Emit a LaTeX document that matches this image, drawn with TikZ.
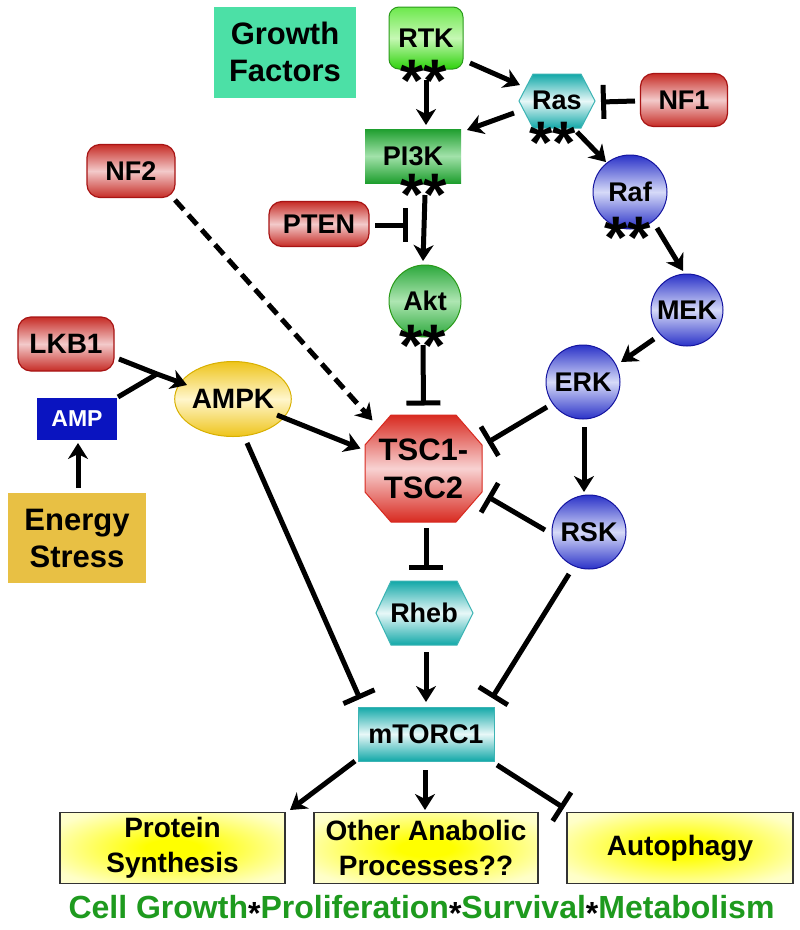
\documentclass[tikz,border=0pt]{standalone}
\usepackage{fontspec}
\setmainfont{Liberation Sans}
\usetikzlibrary{arrows.meta,calc,shapes.geometric}
\definecolor{redT}{HTML}{C62C26}
\definecolor{redM}{HTML}{F3CACA}
\definecolor{redB}{HTML}{A81414}
\definecolor{tscT}{HTML}{D82A20}
\definecolor{tscM}{HTML}{F8D2D2}
\definecolor{grnT}{HTML}{6CE84C}
\definecolor{grnM}{HTML}{C6F8B4}
\definecolor{grnBot}{HTML}{2ED20C}
\definecolor{grnB}{HTML}{2A9A1A}
\definecolor{pikT}{HTML}{1E9E2E}
\definecolor{pikM}{HTML}{A2E2AA}
\definecolor{aktT}{HTML}{2CA83C}
\definecolor{aktM}{HTML}{AEE6B2}
\definecolor{bluT}{HTML}{2A32C8}
\definecolor{bluM}{HTML}{D6DAF8}
\definecolor{bluB}{HTML}{1414A0}
\definecolor{teaT}{HTML}{12A8A8}
\definecolor{teaM}{HTML}{E8F8F8}
\definecolor{teaB}{HTML}{3CB4B4}
\definecolor{ylwT}{HTML}{EEC41A}
\definecolor{ylwM}{HTML}{FFF6CC}
\definecolor{ylwB}{HTML}{D8B000}
\definecolor{gfc}{HTML}{4CE0A6}
\definecolor{esc}{HTML}{E8C044}
\definecolor{ampc}{HTML}{0A14C0}
\definecolor{fgreen}{HTML}{1E9A1E}
\pgfdeclareradialshading{glow}{\pgfpoint{0bp}{0bp}}{color(0bp)=(yellow); color(6bp)=(yellow); color(30bp)=(yellow!22!white); color(50bp)=(yellow!6!white)}
\newcommand{\footstar}{\raisebox{-6pt}{\textcolor{black}{*}}}
\begin{document}
\begin{tikzpicture}[x=1pt,y=-1pt,
  lab/.style={font=\bfseries\fontsize{27}{30}\selectfont, align=center, inner sep=0pt, text=black},
  big/.style={font=\bfseries\fontsize{31}{37}\selectfont},
  redbox/.style={lab, rectangle, rounded corners=13pt, draw=redB, line width=1.2pt, top color=redT, bottom color=redT, middle color=redM},
  bluec/.style={lab, circle, draw=bluB, line width=1pt, top color=bluT, bottom color=bluT, middle color=bluM, minimum size=74pt},
  teal/.style={draw=teaB, line width=1pt, top color=teaT, bottom color=teaT, middle color=teaM},
  outbox/.style={lab, rectangle, draw=black!80, line width=1.3pt, shading=glow, minimum width=225pt, minimum height=71pt, font=\bfseries\fontsize{28}{35}\selectfont},
  stars/.style={font=\bfseries\fontsize{60}{60}\selectfont, inner sep=0pt, anchor=base},
  act/.style={line width=5pt, -{Stealth[length=16pt,width=20pt,inset=5pt]}},
  inh/.style={line width=5pt, -{Bar[width=34pt]}},
  line/.style={line width=5pt}
]
\useasboundingbox (0,0) rectangle (800,930);
\fill[white] (0,0) rectangle (800,930);

% ---- nodes ----
\node[lab, big, fill=gfc, minimum width=142pt, minimum height=91pt] (GF) at (285,52) {Growth\\Factors};
\node[lab, rectangle, rounded corners=10pt, draw=grnB, line width=1pt, top color=grnT, bottom color=grnBot, middle color=grnM, minimum width=74pt, minimum height=62pt] (RTK) at (426,38) {RTK};
\node[stars] (RTKs) at (424,101) {**};

\path[teal] (519,101) -- (533,74) -- (581,74) -- (595,101) -- (581,128) -- (533,128) -- cycle;
\node[lab] (Ras) at (557,100) {Ras};
\node[stars] (Rass) at (553,163) {**};

\node[redbox, minimum width=87pt, minimum height=53pt] (NF1) at (684,100) {NF1};

\node[lab, rectangle, top color=pikT, bottom color=pikT, middle color=pikM, minimum width=96pt, minimum height=54pt] (PI3K) at (413,156) {PI3K};
\node[stars] (PI3Ks) at (424,215) {**};

\node[redbox, minimum width=88pt, minimum height=53pt] (NF2) at (131,171) {NF2};
\node[redbox, minimum width=100pt, minimum height=45pt] (PTEN) at (319,224) {PTEN};

\node[bluec] (Raf) at (630,192) {Raf};
\node[stars] (Rafs) at (628,258) {**};
\node[bluec, minimum size=72pt] (MEK) at (687,310) {MEK};
\node[bluec] (ERK) at (583,382) {ERK};

\node[lab, circle, draw=grnB, line width=1pt, top color=aktT, bottom color=aktT, middle color=aktM, minimum size=72pt] (Akt) at (425,301) {Akt};
\node[stars] (Akts) at (423,366) {**};

\node[redbox, minimum width=96pt, minimum height=54pt, font=\bfseries\fontsize{28}{30}\selectfont] (LKB1) at (66,344) {LKB1};
\node[lab, fill=ampc, text=white, minimum width=80pt, minimum height=42pt, font=\bfseries\fontsize{23}{26}\selectfont] (AMP) at (77,419) {AMP};
\node[lab, big, fill=esc, minimum width=138pt, minimum height=90pt] (ES) at (77,538) {Energy\\Stress};
\node[lab, ellipse, draw=ylwB, line width=1pt, top color=ylwT, bottom color=ylwT, middle color=ylwM, minimum width=85pt, minimum height=75pt, font=\bfseries\fontsize{28}{30}\selectfont] (AMPK) at (233,399) {AMPK};

\path[draw=tscT, line width=1pt, top color=tscT, bottom color=tscT, middle color=tscM] (365,445) -- (391,415) -- (456,415) -- (482,445) -- (482,492) -- (456,522) -- (391,522) -- (365,492) -- cycle;
\node[lab, big, font=\bfseries\fontsize{31}{38}\selectfont] (TSC) at (423.5,468.5) {TSC1-\\TSC2};

\node[bluec] (RSK) at (589,532) {RSK};

\path[teal] (376,613) -- (391,581) -- (457,581) -- (473,613) -- (457,645) -- (391,645) -- cycle;
\node[lab] (Rheb) at (424,613) {Rheb};

\node[lab, rectangle, teal, minimum width=136pt, minimum height=54pt] (mTORC1) at (426,734) {mTORC1};

\node[outbox] (PS) at (172.5,848) {Protein\\Synthesis};
\node[outbox, minimum width=224pt] (OA) at (426,848) {Other Anabolic\\Processes??};
\node[outbox, minimum width=226pt] (AU) at (680,848) {Autophagy};

\node[anchor=base, inner sep=0pt, text=fgreen, font=\bfseries\fontsize{32}{32}\selectfont] (footer) at (421.5,918) {Cell Growth\footstar Proliferation\footstar Survival\footstar Metabolism};

% ---- connectors ----
\coordinate (ptenbar) at (408,225);
\coordinate (join) at (157,374);

\draw[act] ($(RTK)+(0,42)$) -- ($(PI3K)+(13,-31)$);
\draw[act] ($(RTK)+(44,25)$) -- ($(Ras)+(-37,-15)$);
\draw[act] ($(Ras)+(-43,13)$) -- ($(PI3K)+(54,-26)$);
\draw[inh] ($(NF1)+(-49,1)$) -- ($(Ras)+(44,2)$);
\draw[act] ($(Ras)+(20,32)$) -- ($(Raf)+(-24,-30)$);
\draw[act] ($(Raf)+(27,36)$) -- ($(MEK)+(-4,-39)$);
\draw[act] ($(MEK)+(-33,29)$) -- ($(ERK)+(38,-20)$);
\draw[act] ($(PI3K)+(12,39)$) -- ($(Akt)+(-2,-40)$);
\draw[inh] ($(PTEN)+(56,1)$) -- (ptenbar);
\draw[inh] ($(Akt)+(-2,44)$) -- ($(TSC)+(0,-63)$);
\draw[act, dash pattern=on 13pt off 7pt] ($(NF2)+(44,29)$) -- ($(TSC)+(-51,-48)$);
\draw[line] ($(AMP)+(41,-22)$) -- (join);
\draw[act] ($(LKB1)+(53,15)$) -- (join) -- ($(AMPK)+(-46,-14)$);
\draw[act] ($(ES)+(1,-50)$) -- ($(AMP)+(1,24)$);
\draw[act] ($(AMPK)+(44,16)$) -- ($(TSC)+(-63,-20)$);
\draw[inh] ($(AMPK)+(14,44)$) -- ($(mTORC1)+(-66,-35)$);
\draw[inh] ($(ERK)+(-36,25)$) -- ($(TSC)+(64,-26)$);
\draw[act] ($(ERK)+(1,45)$) -- ($(RSK)+(-5,-40)$);
\draw[inh] ($(RSK)+(-44,-2)$) -- ($(TSC)+(64,28)$);
\draw[inh] ($(TSC)+(2.5,59.5)$) -- ($(Rheb)+(2,-43)$);
\draw[act] ($(Rheb)+(2,39)$) -- ($(mTORC1)+(0,-32)$);
\draw[inh] ($(RSK)+(-20,42)$) -- ($(mTORC1)+(66,-36)$);
\draw[act] ($(mTORC1)+(-71,27)$) -- ($(PS)+(117.5,-38)$);
\draw[act] ($(mTORC1)+(-1,36)$) -- ($(OA)+(-1,-38)$);
\draw[inh] ($(mTORC1)+(71,31)$) -- ($(AU)+(-116,-40)$);
\end{tikzpicture}
\end{document}
